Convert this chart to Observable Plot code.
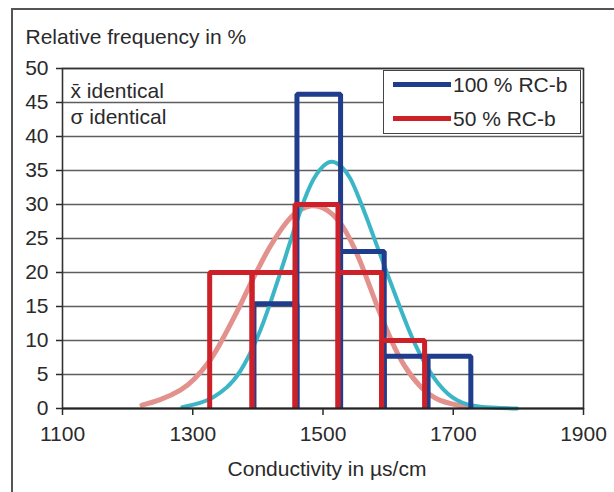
<!DOCTYPE html>
<html>
<head>
<meta charset="utf-8">
<script src="https://cdn.jsdelivr.net/npm/d3@7"></script>
<script src="https://cdn.jsdelivr.net/npm/@observablehq/plot@0.6"></script>
<style>
  html, body { margin: 0; padding: 0; background: #fff; overflow: hidden; width: 614px; height: 492px; }
  #wrap { position: relative; width: 614px; height: 492px; font-family: "Liberation Sans", Arial, sans-serif; color: #2a2a2a; }
  #border { position: absolute; left: 11px; top: 8px; width: 640px; height: 520px; border-left: 2px solid #555; border-top: 2px solid #555; pointer-events: none; }
  #legend { position: absolute; left: 383px; top: 70px; width: 198px; height: 64px; border: 1.5px solid #444; background: #fff; box-sizing: border-box; }
  .sw { position: absolute; left: 9px; width: 58px; height: 5px; }
  .lt { position: absolute; left: 69px; font-size: 21px; line-height: 24px; white-space: nowrap; color: #2a2a2a; }
</style>
</head>
<body>
<div id="wrap">
  <div id="chart"></div>
  <div id="border"></div>
  <div id="legend"></div>
</div>
<script>
// ---- data ----
const seriesNames = ["100 % RC-b", "50 % RC-b"];
const blueEdges = [1394, 1460, 1527, 1594, 1661, 1727];
const blueValues = [15.4, 46.2, 23.1, 7.7, 7.7];
const redEdges = [1326, 1391, 1457, 1523, 1590, 1656];
const redValues = [20, 20, 30, 20, 10];

const cyanX = [1284, 1310, 1332, 1352, 1373, 1399, 1420, 1440, 1460, 1481, 1500, 1514, 1528, 1542, 1555, 1568, 1588, 1609, 1630, 1650, 1676, 1706, 1742, 1798];
const cyanY = [0.2, 0.8, 1.7, 3.1, 5.5, 10.4, 15.8, 21.6, 27.6, 32.9, 35.6, 36.3, 35.6, 33.8, 31.0, 27.8, 22.6, 17.2, 12.0, 7.8, 3.8, 1.2, 0.25, 0];
const pinkX = [1222, 1250, 1281, 1302, 1322, 1340, 1358, 1375, 1389, 1405, 1420, 1445, 1465, 1482, 1500, 1515, 1530, 1548, 1565, 1585, 1605, 1625, 1650, 1680, 1722];
const pinkY = [0.5, 1.3, 2.7, 4.3, 6.5, 9.2, 12.4, 15.6, 18.4, 21.4, 24.0, 27.5, 29.2, 29.8, 29.5, 28.5, 26.8, 23.6, 19.7, 14.6, 10.0, 6.3, 3.2, 1.2, 0.2];

const xTicks = [1100, 1300, 1500, 1700, 1900];
const yTicks = [0, 5, 10, 15, 20, 25, 30, 35, 40, 45, 50];

const titleText = "Relative frequency in %";
const xLabelText = "Conductivity in µs/cm";
const notes = ["x\u0304 identical", "σ identical"];

// ---- colours ----
const BLUE = "#1f3d8c";
const RED = "#cc2129";
const CYAN = "#3cb6c6";
const PINK = "#e2918d";

// ---- build tables ----
function outline(edges, values) {
  const pts = [];
  values.forEach((v, i) => {
    pts.push({x: edges[i], y: 0, bar: i});
    pts.push({x: edges[i], y: v, bar: i});
    pts.push({x: edges[i + 1], y: v, bar: i});
    pts.push({x: edges[i + 1], y: 0, bar: i});
  });
  return pts;
}
const blueOutline = outline(blueEdges, blueValues);
const redOutline = outline(redEdges, redValues);
const cyan = cyanX.map((x, i) => ({x, y: cyanY[i]}));
const pink = pinkX.map((x, i) => ({x, y: pinkY[i]}));

const chart = Plot.plot({
  width: 614,
  height: 492,
  marginLeft: 62,
  marginRight: 31,
  marginTop: 68,
  marginBottom: 84,
  style: {fontFamily: "'Liberation Sans', Arial, sans-serif", fontSize: "21px", color: "#2a2a2a", background: "transparent", overflow: "visible"},
  x: {domain: [1100, 1900]},
  y: {domain: [0, 50]},
  marks: [
    Plot.ruleY(yTicks.slice(1), {stroke: "#5e5e5e", strokeWidth: 1.6}),
    Plot.line(pink, {x: "x", y: "y", stroke: PINK, strokeWidth: 5, curve: "natural"}),
    Plot.line(cyan, {x: "x", y: "y", stroke: CYAN, strokeWidth: 4, curve: "natural"}),
    Plot.line(blueOutline, {x: "x", y: "y", z: "bar", stroke: BLUE, strokeWidth: 5, strokeLinejoin: "miter", strokeLinecap: "butt"}),
    Plot.line(redOutline, {x: "x", y: "y", z: "bar", stroke: RED, strokeWidth: 5, strokeLinejoin: "miter", strokeLinecap: "butt"}),
    Plot.frame({stroke: "#333", strokeWidth: 1.6}),
    Plot.ruleY([0], {stroke: "#222", strokeWidth: 2}),
    Plot.axisY({ticks: yTicks, tickSize: 6, tickPadding: 8, label: null, strokeWidth: 1.5}),
    Plot.axisX({ticks: xTicks, tickSize: 7, tickPadding: 11, label: null, tickFormat: d => String(d), strokeWidth: 1.5}),
    Plot.text([titleText], {frameAnchor: "top-left", dx: -37, dy: -25, lineAnchor: "bottom", textAnchor: "start", fill: "#2a2a2a"}),
    Plot.text([xLabelText], {frameAnchor: "bottom", dx: 4, dy: 67, lineAnchor: "bottom", textAnchor: "middle", fill: "#2a2a2a"}),
    Plot.text([notes[0]], {frameAnchor: "top-left", dx: 8, dy: 29, lineAnchor: "bottom", textAnchor: "start", fill: "#2a2a2a"}),
    Plot.text([notes[1]], {frameAnchor: "top-left", dx: 8, dy: 55, lineAnchor: "bottom", textAnchor: "start", fill: "#2a2a2a"})
  ]
});
document.getElementById("chart").appendChild(chart);

// ---- legend ----
const legend = document.getElementById("legend");
[[seriesNames[0], BLUE, 15], [seriesNames[1], RED, 49]].forEach(([name, col, cy]) => {
  const sw = document.createElement("div");
  sw.className = "sw";
  sw.style.background = col;
  sw.style.top = (cy - 2.5 - 1.5) + "px";
  legend.appendChild(sw);
  const t = document.createElement("div");
  t.className = "lt";
  t.style.top = (cy - 12 - 1.5) + "px";
  t.textContent = name;
  legend.appendChild(t);
});
</script>
</body>
</html>
